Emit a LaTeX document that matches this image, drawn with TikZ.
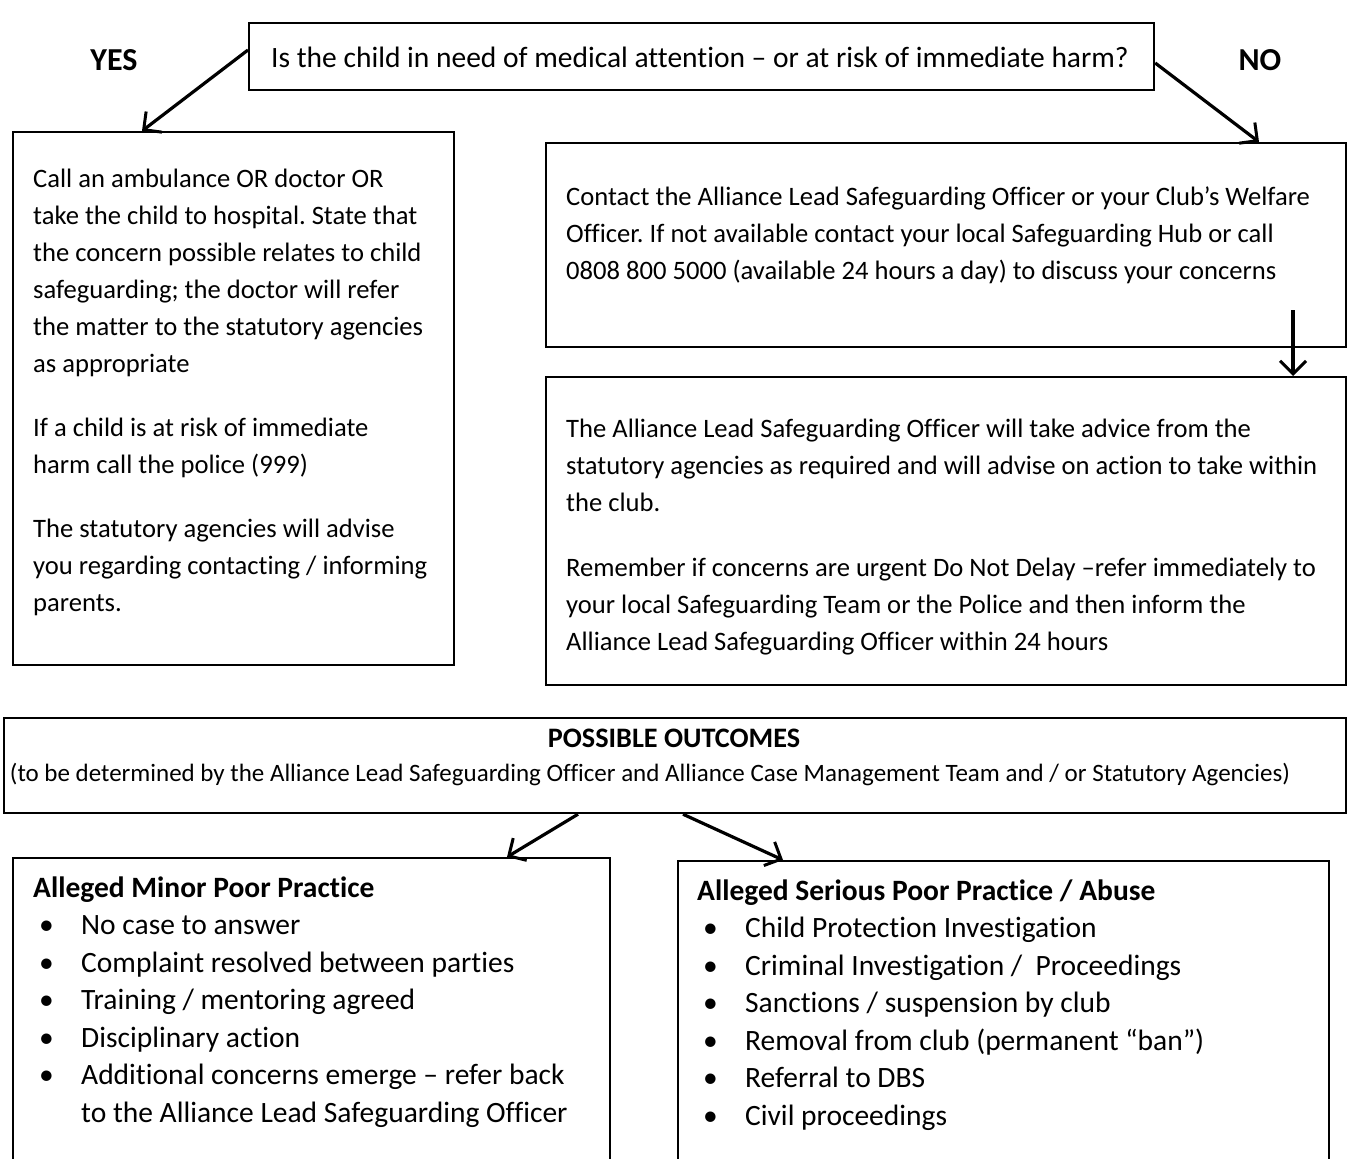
\documentclass[tikz,border=0pt]{standalone}
\usepackage{fontspec}
\setmainfont{Carlito}[Ligatures=CommonOff]
\usetikzlibrary{arrows.meta,positioning}
\frenchspacing

\tikzset{
  box/.style={draw, line width=2.2pt, rectangle, anchor=north west, inner sep=0pt},
  txt/.style={anchor=base west, inner sep=0pt, align=flush left, text width=#1,
    font=\fontsize{26.6}{37}\selectfont},
  list/.style={txt=#1, font=\fontsize{29.5}{37.5}\selectfont},
  flow/.style={-{Straight Barb[length=13pt,width=26pt,line width=3pt]}, line width=3.2pt},
  lbl/.style={font=\fontsize{32}{36}\selectfont\bfseries, inner sep=0pt}
}
\newcommand{\bul}{\hspace*{6pt}\makebox[42pt][l]{•}}

\begin{document}
\begin{tikzpicture}[x=1pt,y=-1pt]
\clip (0,0) rectangle (1347,1159);

% question at the top
\node[box, minimum width=905pt, minimum height=67pt] (ask) at (248,22) {};
\node[font=\fontsize{29.5}{34}\selectfont, inner sep=0pt] (askText) at (700,57)
  {Is the child in need of medical attention – or at risk of immediate harm?};
\node[lbl] (yes) at (114,60) {YES};
\node[lbl] (no) at (1260,60) {NO};

% yes branch
\node[box, minimum width=441pt, minimum height=533pt] (ambulance) at (12,131) {};
\node[txt=500pt] (ambulanceText) at (33,187)
  {Call an ambulance OR doctor OR\\
   take the child to hospital. State that\\
   the concern possible relates to child\\
   safeguarding; the doctor will refer\\
   the matter to the statutory agencies\\
   as appropriate\\[27pt]
   If a child is at risk of immediate\\
   harm call the police (999)\\[27pt]
   The statutory agencies will advise\\
   you regarding contacting / informing\\
   parents.};

% no branch
\node[box, minimum width=800pt, minimum height=204pt] (contact) at (545,142) {};
\node[txt=900pt] (contactText) at (566,205)
  {Contact the Alliance Lead Safeguarding Officer or your Club’s Welfare\\
   Officer. If not available contact your local Safeguarding Hub or call\\
   0808 800 5000 (available 24 hours a day) to discuss your concerns};
\node[box, minimum width=800pt, minimum height=308pt] (advice) at (545,376) {};
\node[txt=900pt] (adviceText) at (566,437)
  {The Alliance Lead Safeguarding Officer will take advice from the\\
   statutory agencies as required and will advise on action to take within\\
   the club.\\[28pt]
   Remember if concerns are urgent Do Not Delay –refer immediately to\\
   your local Safeguarding Team or the Police and then inform the\\
   Alliance Lead Safeguarding Officer within 24 hours};
\coordinate (down) at (1293,310);

% outcomes
\node[box, minimum width=1342pt, minimum height=95pt] (outcomes) at (3,717) {};
\node[font=\fontsize{28.2}{32}\selectfont\bfseries, inner sep=0pt] (outcomesHead) at (674,738) {POSSIBLE OUTCOMES};
\node[font=\fontsize{25}{28}\selectfont, inner sep=0pt] (outcomesSub) at (650,774)
  {(to be determined by the Alliance Lead Safeguarding Officer and Alliance Case Management Team and / or Statutory Agencies)};

\node[box, minimum width=597pt, minimum height=400pt] (minor) at (12,857) {};
\node[list=700pt] (minorText) at (33,897)
  {\textbf{Alleged Minor Poor Practice}\\
   \bul No case to answer\\
   \bul Complaint resolved between parties\\
   \bul Training / mentoring agreed\\
   \bul Disciplinary action\\
   \bul Additional concerns emerge – refer back\\
   \hspace*{48pt}to the Alliance Lead Safeguarding Officer};
\node[box, minimum width=651pt, minimum height=400pt] (serious) at (677,860) {};
\node[list=700pt] (seriousText) at (697,900)
  {\textbf{Alleged Serious Poor Practice / Abuse}\\
   \bul Child Protection Investigation\\
   \bul Criminal Investigation /\ \ Proceedings\\
   \bul Sanctions / suspension by club\\
   \bul Removal from club (permanent “ban”)\\
   \bul Referral to DBS\\
   \bul Civil proceedings};

% arrows
\draw[flow] (ask.west |- 0,50) -- (ambulance.north -| 142,0);
\draw[flow] (ask.east |- 0,63) -- (contact.north -| 1259,0);
\draw[flow] (down) -- (advice.north -| down);
\draw[flow] (outcomes.south -| 578,0) -- (minor.north -| 507,0);
\draw[flow] (outcomes.south -| 683,0) -- (serious.north -| 783,0);
\end{tikzpicture}
\end{document}
